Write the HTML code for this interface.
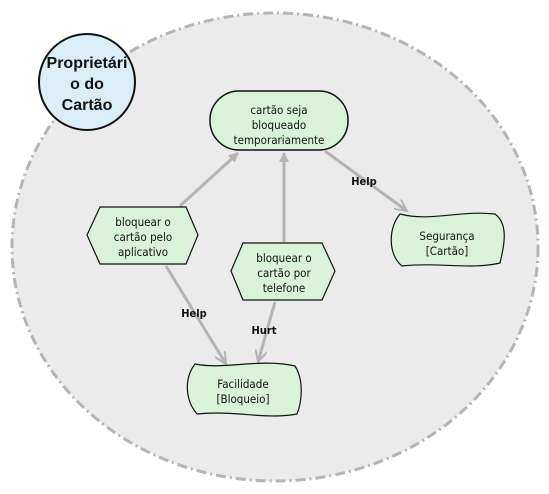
<!DOCTYPE html>
<html><head><meta charset="utf-8"><style>
body{margin:0;background:#fff}
svg text{font-family:"DejaVu Sans Condensed","DejaVu Sans","Liberation Sans",sans-serif;font-size:11.5px;fill:#111;text-anchor:middle}
</style></head><body>
<svg width="549" height="489" viewBox="0 0 549 489" xmlns="http://www.w3.org/2000/svg">
<defs>
<marker id="f" markerWidth="10" markerHeight="10" refX="9" refY="5" orient="auto" markerUnits="userSpaceOnUse"><path d="M0,0 L10,5 L0,10 z" fill="#b4b4b4"/></marker>
<marker id="o" markerWidth="14" markerHeight="12" refX="12" refY="6" orient="auto" markerUnits="userSpaceOnUse"><path d="M0,0 L12,6 L0,12" fill="none" stroke="#b4b4b4" stroke-width="2"/></marker>
</defs>
<ellipse cx="275" cy="247" rx="263" ry="234" fill="#ebebeb" stroke="#b4b4b4" stroke-width="3" stroke-dasharray="10,4,2,4"/>
<circle cx="87" cy="82" r="48" fill="#d9eef6" stroke="#111" stroke-width="2"/>
<text x="87" y="68" style="font-family:'Liberation Sans',sans-serif;font-size:16px;font-weight:bold">Proprietári</text>
<text x="87" y="89" style="font-family:'Liberation Sans',sans-serif;font-size:16px;font-weight:bold">o do</text>
<text x="87" y="110" style="font-family:'Liberation Sans',sans-serif;font-size:16px;font-weight:bold">Cartão</text>
<g stroke="#b4b4b4" stroke-width="3" fill="none">
<line x1="180" y1="206" x2="238" y2="153" marker-end="url(#f)"/>
<line x1="284" y1="242" x2="284" y2="153" marker-end="url(#f)"/>
<line x1="325" y1="151" x2="407" y2="211" marker-end="url(#o)"/>
<line x1="166" y1="266" x2="226" y2="364" marker-end="url(#o)"/>
<line x1="275" y1="302" x2="258" y2="362" marker-end="url(#o)"/>
</g>
<text x="364" y="185" style="font-weight:bold;font-size:11px">Help</text>
<text x="194" y="317" style="font-weight:bold;font-size:11px">Help</text>
<text x="264" y="334" style="font-weight:bold;font-size:11px">Hurt</text>
<rect x="210" y="91" width="138" height="59" rx="29" fill="#d9f3d9" stroke="#111" stroke-width="1.5"/>
<text x="279" y="114">cartão seja</text>
<text x="279" y="129">bloqueado</text>
<text x="279" y="144">temporariamente</text>
<polygon points="87,235 100,207 186,207 198,235 186,264 100,264" fill="#d9f3d9" stroke="#111" stroke-width="1.2"/>
<text x="143" y="226">bloquear o</text>
<text x="143" y="241">cartão pelo</text>
<text x="143" y="256">aplicativo</text>
<polygon points="231,271 243,243 322,243 335,271 322,300 243,300" fill="#d9f3d9" stroke="#111" stroke-width="1.2"/>
<text x="284" y="262">bloquear o</text>
<text x="284" y="277">cartão por</text>
<text x="284" y="292">telefone</text>
<path d="M400,214 C430,222 460,210 495,214 C510,225 503,250 500,263 C470,270 440,262 402,266 C388,255 388,228 400,214 Z" fill="#d9f3d9" stroke="#111" stroke-width="1.2"/>
<text x="447" y="240">Segurança</text>
<text x="447" y="255">[Cartão]</text>
<path d="M195,364 C225,370 260,358 295,366 C304,380 302,402 297,414 C265,420 235,410 197,414 C185,400 184,378 195,364 Z" fill="#d9f3d9" stroke="#111" stroke-width="1.2"/>
<text x="243" y="388">Facilidade</text>
<text x="243" y="403">[Bloqueio]</text>
</svg>
</body></html>
